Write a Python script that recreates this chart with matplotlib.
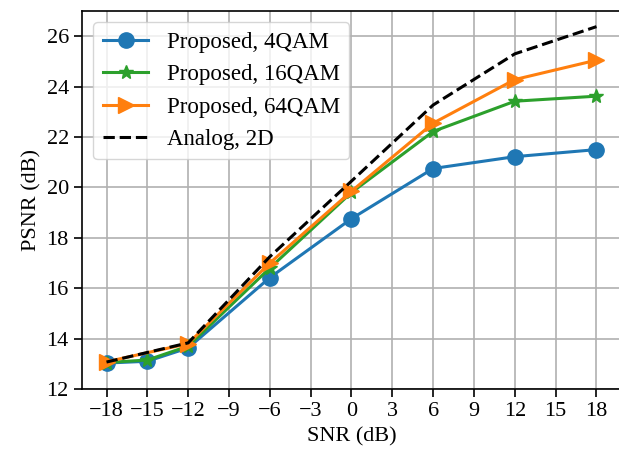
import matplotlib
matplotlib.use("Agg")
import matplotlib.pyplot as plt
import numpy as np

plt.rcParams['font.family'] = ['Liberation Serif', 'DejaVu Serif']

snr = [-18, -15, -12, -6, 0, 6, 12, 18]
psnr_4qam = [13.03, 13.1, 13.63, 16.42, 18.76, 20.75, 21.22, 21.5]
psnr_16qam = [13.05, 13.15, 13.7, 16.8, 19.8, 22.22, 23.42, 23.62]
snr_64 = [-18, -12, -6, 0, 6, 12, 18]
psnr_64qam = [13.08, 13.8, 17.0, 19.85, 22.55, 24.28, 25.05]
psnr_analog = [13.07, 13.83, 17.25, 20.25, 23.27, 25.3, 26.38]

fig = plt.figure(figsize=(6.19, 4.53), dpi=100)
ax = fig.add_axes([82 / 619, 1 - 389 / 453, (621 - 82) / 619, (389 - 11) / 453])

ax.plot(snr, psnr_4qam, color='#1f77b4', marker='o', markersize=11, linewidth=2.2,
        label='Proposed, 4QAM')
ax.plot(snr, psnr_16qam, color='#2ca02c', marker='*', markersize=10, linewidth=2.2,
        label='Proposed, 16QAM')
ax.plot(snr_64, psnr_64qam, color='#ff7f0e', marker='>', markersize=12, linewidth=2.2,
        label='Proposed, 64QAM')
ax.plot(snr_64, psnr_analog, color='black', linestyle='--', linewidth=2.2,
        label='Analog, 2D')

ax.set_xticks(np.arange(-18, 19, 3))
ax.set_xlim(-19.8, 19.8)
ax.set_ylim(12, 27)
ax.set_yticks(np.arange(12, 27, 2))
ax.tick_params(labelsize=16, length=6, width=1.2)
for s in ax.spines.values():
    s.set_linewidth(1.2)
ax.set_xlabel('SNR (dB)', fontsize=16)
ax.set_ylabel('PSNR (dB)', fontsize=16)
ax.grid(True, color='#b0b0b0', linewidth=1.2)
ax.legend(loc='upper left', fontsize=16.5)

fig.savefig('out.png', dpi=100)
